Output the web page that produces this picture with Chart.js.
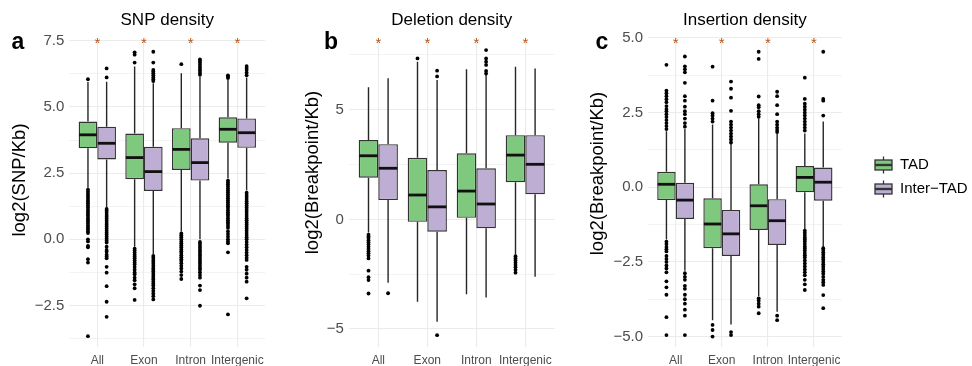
<!DOCTYPE html>
<html>
<head>
<meta charset="utf-8">
<script src="https://cdn.jsdelivr.net/npm/chart.js@4.4.0/dist/chart.umd.min.js"></script>
<style>
html, body { margin: 0; padding: 0; background: #fff; }
#wrap { position: relative; width: 972px; height: 366px; overflow: hidden; }
canvas { position: absolute; top: 0; }
</style>
</head>
<body>
<div id="wrap">
  <canvas id="snpChart" width="275" height="366" style="left:0px"></canvas>
  <canvas id="delChart" width="270" height="366" style="left:296px"></canvas>
  <canvas id="insChart" width="392" height="366" style="left:580px"></canvas>
</div>
<script>
var categories = ['All', 'Exon', 'Intron', 'Intergenic'];
var groups = ['TAD', 'Inter\u2212TAD'];
var groupColors = ['#7FC97F', '#BEAED4'];

// each box: [lower whisker, q1, median, q3, upper whisker]
var snpTad = [
    [1.95, 3.44, 3.95, 4.45, 5.95],
    [-0.28, 2.27, 3.09, 4.0, 6.53],
    [0.3, 2.62, 3.4, 4.2, 6.28],
    [2.3, 3.65, 4.16, 4.61, 6.05]
];
var snpInter = [
    [1.2, 3.02, 3.63, 4.26, 5.96],
    [-0.55, 1.83, 2.56, 3.5, 5.9],
    [0.0, 2.22, 2.9, 3.82, 6.15],
    [1.85, 3.46, 4.03, 4.57, 6.12]
];
var snpTadOut = [
    [6.05, 1.88, 1.8, 1.72, 1.65, 1.58, 1.5, 1.43, 1.36, 1.28, 1.2, 1.12, 1.05, 0.98, 0.9, 0.82, 0.75, 0.68, 0.6, 0.52, 0.45, 0.38, 0.3, 0.24, 0.0, -0.08, -0.25, -0.3, -0.75, -0.88, -3.66],
    [6.68, 6.98, 7.07, -0.35, -0.42, -0.5, -0.58, -0.65, -0.72, -0.8, -0.88, -0.95, -1.05, -1.15, -1.25, -1.32, -1.45, -1.55, -1.7, -1.85, -2.29],
    [6.62, 0.22, 0.15, 0.08, 0.0, -0.08, -0.15, -0.22, -0.3, -0.38, -0.45, -0.52, -0.6, -0.68, -0.75, -0.82, -0.9, -1.0, -1.1, -1.22, -1.35, -1.5],
    [6.1, 6.15, 6.2, 2.22, 2.15, 2.08, 2.0, 1.92, 1.85, 1.78, 1.7, 1.62, 1.55, 1.48, 1.4, 1.32, 1.25, 1.18, 1.1, 1.02, 0.95, 0.88, 0.8, 0.72, 0.65, 0.58, 0.5, 0.43, 0.3, 0.2, 0.1, 0.0, -0.08, -0.15, -0.49, -2.84]
];
var snpInterOut = [
    [6.12, 6.46, 1.15, 1.08, 1.0, 0.92, 0.85, 0.78, 0.7, 0.62, 0.55, 0.48, 0.4, 0.32, 0.25, 0.18, 0.1, 0.03, -0.05, -0.12, -0.28, -0.4, -0.47, -0.58, -0.65, -0.72, -1.04, -1.26, -1.77, -2.36, -2.93],
    [5.98, 6.05, 6.12, 6.2, 6.28, 6.34, 6.4, 6.68, 7.09, -0.63, -0.7, -0.78, -0.85, -0.92, -1.0, -1.08, -1.15, -1.22, -1.3, -1.38, -1.45, -1.52, -1.6, -1.68, -1.75, -1.85, -1.95, -2.05, -2.15, -2.27],
    [6.22, 6.3, 6.38, 6.45, 6.52, 6.6, 6.68, 6.75, 6.8, -0.1, -0.17, -0.25, -0.32, -0.4, -0.47, -0.55, -0.62, -0.7, -0.78, -0.85, -0.92, -1.0, -1.08, -1.15, -1.25, -1.35, -1.45, -1.75, -1.92, -2.51],
    [6.2, 6.3, 6.4, 6.48, 6.55, 1.76, 1.68, 1.6, 1.52, 1.44, 1.36, 1.28, 1.2, 1.12, 1.04, 0.96, 0.88, 0.8, 0.72, 0.64, 0.56, 0.48, 0.4, 0.32, 0.24, 0.16, 0.08, 0.0, -0.1, -0.2, -0.3, -0.4, -0.5, -0.6, -0.7, -0.78, -1.04, -1.15, -1.3, -1.45, -1.6, -2.23]
];

var delTad = [
    [-0.6, 1.9, 2.9, 3.62, 6.02],
    [-3.76, -0.11, 1.11, 2.81, 7.19],
    [-3.41, 0.07, 1.29, 3.01, 6.85],
    [-1.6, 1.69, 2.93, 3.84, 6.96]
];
var delInter = [
    [-2.89, 0.88, 2.33, 3.43, 6.43],
    [-4.67, -0.56, 0.57, 2.25, 6.35],
    [-3.56, -0.41, 0.7, 2.33, 6.58],
    [-2.62, 1.14, 2.51, 3.84, 6.88]
];
var delTadOut = [
    [-0.7, -0.78, -0.85, -0.95, -1.05, -1.15, -1.25, -1.35, -1.45, -1.55, -1.65, -1.78, -2.34, -2.64, -2.77, -3.38],
    [7.34],
    [],
    [-1.68, -1.78, -1.88, -1.98, -2.08, -2.18, -2.3, -2.43]
];
var delInterOut = [
    [-3.37],
    [6.52, 6.78, -5.28],
    [6.65, 6.77, 7.04, 7.19, 7.34, 7.72],
    []
];

var insTad = [
    [-1.75, -0.43, 0.1, 0.52, 1.88],
    [-4.45, -2.04, -1.23, -0.37, 2.1],
    [-3.65, -1.43, -0.62, 0.1, 2.3],
    [-1.4, -0.17, 0.33, 0.71, 1.8]
];
var insInter = [
    [-2.8, -1.06, -0.43, 0.15, 1.95],
    [-4.6, -2.3, -1.56, -0.76, 1.45],
    [-4.17, -1.93, -1.12, -0.4, 1.8],
    [-2.0, -0.45, 0.17, 0.66, 2.2]
];
var insTadOut = [
    [1.95, 2.05, 2.15, 2.25, 2.35, 2.45, 2.55, 2.62, 2.72, 2.85, 2.95, 3.05, 3.15, 3.24, 4.1, -1.82, -1.9, -2.0, -2.08, -2.15, -2.3, -2.4, -2.5, -2.62, -2.72, -2.85, -3.15, -3.35, -3.6, -4.35, -4.95],
    [2.2, 2.3, 2.4, 2.48, 2.9, 4.04, -4.61, -4.78, -5.0],
    [2.36, 2.45, 2.55, 2.68, 2.75, 3.04, 4.3, 4.54, -3.72, -3.8, -3.9, -4.0, -4.22],
    [1.9, 2.0, 2.1, 2.2, 2.3, 2.4, 2.5, 2.6, 2.7, 2.8, 2.96, 3.67, -1.45, -1.52, -1.6, -1.68, -1.75, -1.82, -1.9, -1.98, -2.05, -2.12, -2.2, -2.28, -2.35, -2.45, -2.55, -2.65, -2.75, -2.85, -2.95, -3.1, -3.25, -3.44]
];
var insInterOut = [
    [2.03, 2.15, 2.3, 2.45, 2.55, 2.7, 2.9, 3.05, 3.5, 3.85, 3.95, 4.05, 4.38, -2.88, -3.0, -3.1, -3.3, -3.4, -3.6, -3.75, -3.9, -4.1, -4.3, -4.95],
    [1.5, 1.6, 1.7, 1.8, 1.9, 2.0, 2.1, 2.2, 2.56, 3.0, 3.3, 3.54, -4.85, -4.95],
    [1.85, 1.92, 2.0, 2.1, 2.2, 2.45, 2.75, 3.05, 3.2, -4.3, -4.45],
    [2.4, 2.9, 2.96, 4.54, -2.04, -2.1, -2.18, -2.26, -2.34, -2.42, -2.5, -2.58, -2.66, -2.74, -2.82, -2.9, -3.0, -3.1, -3.18, -3.27, -3.61, -4.05]
];

// y level of the significance stars in each panel
var snpStar = 7.5;
var delStar = 8.18;
var insStar = 4.93;

var FONT = "'Liberation Sans', Arial, sans-serif";
Chart.defaults.font.family = FONT;

function fmtTick(v, decimals) {
    var s = Math.abs(v).toFixed(decimals);
    return (v < 0 ? '\u2212' : '') + s;
}

var boxParts = {
    id: 'boxParts',
    beforeDatasetsDraw(chart) {
        const ctx = chart.ctx, y = chart.scales.y;
        ctx.save();
        ctx.strokeStyle = '#262626';
        ctx.lineWidth = 1.4;
        for (let d = 0; d < 2; d++) {
            const meta = chart.getDatasetMeta(d);
            const stats = chart.data.datasets[d].stats;
            meta.data.forEach((bar, i) => {
                const s = stats[i];
                ctx.beginPath();
                ctx.moveTo(bar.x, y.getPixelForValue(s[0]));
                ctx.lineTo(bar.x, y.getPixelForValue(s[1]));
                ctx.moveTo(bar.x, y.getPixelForValue(s[3]));
                ctx.lineTo(bar.x, y.getPixelForValue(s[4]));
                ctx.stroke();
            });
        }
        ctx.restore();
    },
    afterDatasetsDraw(chart) {
        const ctx = chart.ctx, y = chart.scales.y;
        ctx.save();
        ctx.strokeStyle = '#111111';
        ctx.lineWidth = 2.8;
        for (let d = 0; d < 2; d++) {
            const meta = chart.getDatasetMeta(d);
            const stats = chart.data.datasets[d].stats;
            meta.data.forEach((bar, i) => {
                const py = y.getPixelForValue(stats[i][2]);
                ctx.beginPath();
                ctx.moveTo(bar.x - bar.width / 2 + 0.5, py);
                ctx.lineTo(bar.x + bar.width / 2 - 0.5, py);
                ctx.stroke();
            });
        }
        ctx.restore();
    },
    afterDraw(chart, args, o) {
        const ctx = chart.ctx, x = chart.scales.x, y = chart.scales.y;
        const area = chart.chartArea;
        ctx.save();
        // panel title
        ctx.fillStyle = '#000';
        ctx.font = '17px ' + FONT;
        ctx.textAlign = 'center';
        ctx.textBaseline = 'alphabetic';
        ctx.fillText(o.title, (area.left + area.right) / 2, 25);
        // panel letter
        ctx.font = 'bold 23px ' + FONT;
        ctx.textAlign = 'left';
        ctx.fillText(o.letter, o.letterX, 49);
        // stars
        ctx.fillStyle = '#B8541A';
        ctx.font = '15px ' + FONT;
        ctx.textAlign = 'center';
        ctx.textBaseline = 'middle';
        categories.forEach((c, i) => {
            ctx.fillText('*', x.getPixelForValue(i + 1), y.getPixelForValue(o.star) + 3.4);
        });
        // y axis title
        ctx.fillStyle = '#000';
        ctx.font = '18.5px ' + FONT;
        ctx.translate(o.yTitleX, o.yTitleY);
        ctx.rotate(-Math.PI / 2);
        ctx.fillText(o.yTitle, 0, 0);
        ctx.restore();

        if (o.legend) {
            ctx.save();
            const kx = o.legendX;
            [165, 189].forEach((cy, g) => {
                ctx.strokeStyle = '#333333';
                ctx.lineWidth = 1.3;
                ctx.beginPath();
                ctx.moveTo(kx + 8.5, cy - 8.5);
                ctx.lineTo(kx + 8.5, cy + 8.5);
                ctx.stroke();
                ctx.fillStyle = groupColors[g];
                ctx.fillRect(kx, cy - 5, 17, 10);
                ctx.strokeRect(kx, cy - 5, 17, 10);
                ctx.lineWidth = 2.4;
                ctx.beginPath();
                ctx.moveTo(kx, cy);
                ctx.lineTo(kx + 17, cy);
                ctx.stroke();
                ctx.fillStyle = '#000';
                ctx.font = '15px ' + FONT;
                ctx.textAlign = 'left';
                ctx.textBaseline = 'middle';
                ctx.fillText(groups[g], kx + 25, cy);
            });
            ctx.restore();
        }
    }
};

function makePanel(canvasId, tad, inter, tadOut, interOut, cfg) {
    const majors = cfg.majors, minors = cfg.minors;
    const datasets = [
        {
            type: 'bar', label: groups[0],
            data: tad.map((b, i) => ({ x: i + 1, y: [b[1], b[3]] })),
            stats: tad,
            backgroundColor: groupColors[0], borderColor: '#333333', borderWidth: 1.4,
            borderSkipped: false, categoryPercentage: 0.8, barPercentage: 1.0
        },
        {
            type: 'bar', label: groups[1],
            data: inter.map((b, i) => ({ x: i + 1, y: [b[1], b[3]] })),
            stats: inter,
            backgroundColor: groupColors[1], borderColor: '#333333', borderWidth: 1.4,
            borderSkipped: false, categoryPercentage: 0.8, barPercentage: 1.0
        }
    ];
    [tadOut, interOut].forEach((outs, g) => {
        const pts = [];
        outs.forEach((vals, i) => {
            vals.forEach(v => pts.push({ x: i + 1 + (g === 0 ? -0.2 : 0.2), y: v }));
        });
        datasets.push({
            type: 'scatter', label: groups[g] + ' outliers', data: pts,
            pointRadius: 1.9, pointBackgroundColor: '#000', pointBorderWidth: 0,
            showLine: false
        });
    });

    return new Chart(document.getElementById(canvasId), {
        type: 'bar',
        data: { datasets: datasets },
        plugins: [boxParts],
        options: {
            responsive: false,
            animation: false,
            events: [],
            layout: { padding: { top: 38, bottom: 0, left: 0, right: cfg.padRight } },
            plugins: {
                legend: { display: false },
                tooltip: { enabled: false },
                boxParts: cfg.deco
            },
            scales: {
                x: {
                    type: 'linear', min: 0.4, max: 4.6, offset: false,
                    afterBuildTicks: s => { s.ticks = [1, 2, 3, 4].map(v => ({ value: v })); },
                    afterFit: s => { s.height = 19; },
                    ticks: {
                        callback: v => categories[v - 1],
                        autoSkip: false, maxRotation: 0, minRotation: 0,
                        color: '#4D4D4D', font: { size: 12 }, padding: 6
                    },
                    grid: { color: '#EBEBEB', lineWidth: 1.1, drawTicks: false, offset: false },
                    border: { display: false }
                },
                y: {
                    type: 'linear', min: cfg.yMin, max: cfg.yMax,
                    afterBuildTicks: s => {
                        s.ticks = majors.concat(minors).sort((a, b) => a - b).map(v => ({ value: v }));
                    },
                    afterFit: s => { s.width = cfg.yWidth; },
                    ticks: {
                        callback: v => majors.indexOf(v) >= 0 ? fmtTick(v, cfg.decimals) : '',
                        autoSkip: false, color: '#4D4D4D', font: { size: 15 }, padding: 5
                    },
                    grid: {
                        color: '#EBEBEB',
                        lineWidth: c => (c.tick && majors.indexOf(c.tick.value) >= 0) ? 1.1 : 0.6,
                        drawTicks: false
                    },
                    border: { display: false }
                }
            }
        }
    });
}

makePanel('snpChart', snpTad, snpInter, snpTadOut, snpInterOut, {
    yMin: -4.07, yMax: 7.61, yWidth: 69.3, padRight: 9.7, decimals: 1,
    majors: [-2.5, 0, 2.5, 5, 7.5], minors: [-3.75, -1.25, 1.25, 3.75, 6.25],
    deco: { title: 'SNP density', letter: 'a', letterX: 11.5, star: snpStar,
            yTitle: 'log2(SNP/Kb)', yTitleX: 20, yTitleY: 180, legend: false }
});

makePanel('delChart', delTad, delInter, delTadOut, delInterOut, {
    yMin: -5.82, yMax: 8.27, yWidth: 52.9, padRight: 11.3, decimals: 0,
    majors: [-5, 0, 5], minors: [-2.5, 2.5, 7.5],
    deco: { title: 'Deletion density', letter: 'b', letterX: 28, star: delStar,
            yTitle: 'log2(Breakpoint/Kb)', yTitleX: 16.5, yTitleY: 172.5, legend: false }
});

makePanel('insChart', insTad, insInter, insTadOut, insInterOut, {
    yMin: -5.35, yMax: 5.0, yWidth: 68, padRight: 130.3, decimals: 1,
    majors: [-5, -2.5, 0, 2.5, 5], minors: [-3.75, -1.25, 1.25, 3.75],
    deco: { title: 'Insertion density', letter: 'c', letterX: 15.5, star: insStar,
            yTitle: 'log2(Breakpoint/Kb)', yTitleX: 17.5, yTitleY: 173.5,
            legend: true, legendX: 295 }
});
</script>
</body>
</html>
